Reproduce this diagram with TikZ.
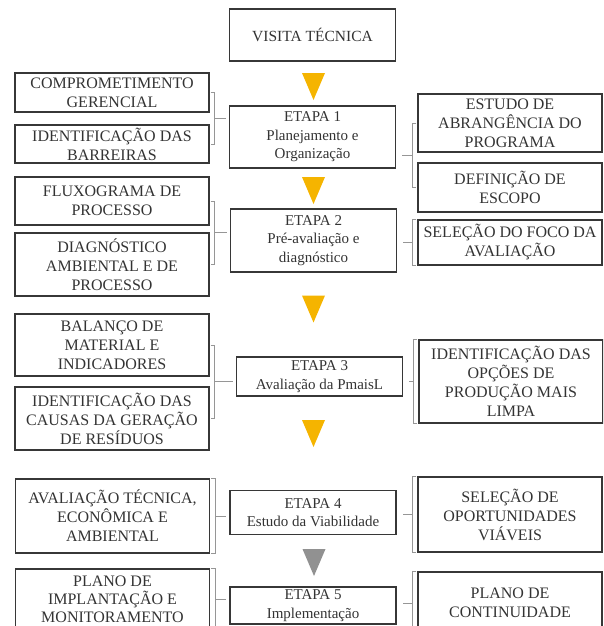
\documentclass[tikz,border=0pt]{standalone}
\usepackage{fontspec}
\setmainfont{Liberation Serif}
\usetikzlibrary{calc}

\definecolor{ouro}{RGB}{245,180,0}
\definecolor{cinza}{RGB}{145,145,145}
\definecolor{traco}{RGB}{55,55,55}
\definecolor{chave}{RGB}{150,150,150}

% bracket on the left side, stub towards the stage box
\newcommand{\bracketL}[3]{%
  \path ([xshift=5pt]#1) coordinate (bA) ([xshift=5pt]#2) coordinate (bB);
  \path ($(bA)!.5!(bB)$) coordinate (bM);
  \draw[brk] ([xshift=1pt]#1) -- (bA) -- (bB) -- ([xshift=1pt]#2);
  \draw[brk, shorten >=3pt] (bM) -- (bM -| #3.west);
}
% bracket on the right side
\newcommand{\bracketR}[3]{%
  \path ([xshift=-5pt]#1) coordinate (bA) ([xshift=-5pt]#2) coordinate (bB);
  \path ($(bA)!.5!(bB)$) coordinate (bM);
  \draw[brk] ([xshift=-1pt]#1) -- (bA) -- (bB) -- ([xshift=-1pt]#2);
  \draw[brk, shorten >=6pt] (bM) -- (bM -| #3.east);
}
% down triangle between stages
\newcommand{\downtri}[2]{\fill[#2] (#1) ++(-11.5,-13.5) -- ++(23,0) -- ++(-11.5,27) -- cycle;}

\begin{document}
\begin{tikzpicture}[
    x=1pt, y=-1pt,
    side/.style={rectangle, draw=traco, line width=1.1pt, minimum width=194pt, align=center, inner sep=0pt, text=black!80, font=\fontsize{16}{19}\selectfont},
    wide/.style={side, minimum width=184pt},
    stage/.style={rectangle, draw=traco, line width=1.1pt, minimum width=166pt, align=center, inner sep=0pt, text=black!80, font=\fontsize{15}{18.5}\selectfont},
    brk/.style={draw=chave, line width=0.8pt}
]
    \useasboundingbox (0,0) rectangle (603,626);
    \clip (0,0) rectangle (603,626);

    % Stages
    \node[stage, minimum height=52pt] (visita) at (312.5,35) {\fontsize{15.5}{18.5}\selectfont VISITA TÉCNICA};
    \node[stage, minimum height=62pt] (e1) at (312.5,137) {ETAPA 1\\Planejamento e\\Organização};
    \node[stage, minimum height=63pt] (e2) at (313.5,240.5) {ETAPA 2\\Pré-avaliação e\\diagnóstico};
    \node[stage, minimum height=39pt] (e3) at (319.5,376.5) {ETAPA 3\\Avaliação da PmaisL};
    \node[stage, minimum height=44pt] (e4) at (313,512.5) {ETAPA 4\\Estudo da Viabilidade};
    \node[stage, minimum height=37pt] (e5) at (313,605.5) {ETAPA 5\\Implementação};

    % Left side
    \node[side, minimum height=39pt] (l1a) at (112,92.5) {COMPROMETIMENTO\\GERENCIAL};
    \node[side, minimum height=38pt] (l1b) at (112,144) {IDENTIFICAÇÃO DAS\\BARREIRAS};
    \node[side, minimum height=48pt] (l2a) at (112,201) {FLUXOGRAMA DE\\PROCESSO};
    \node[side, minimum height=63pt] (l2b) at (112,264.5) {DIAGNÓSTICO\\AMBIENTAL E DE\\PROCESSO};
    \node[side, minimum height=62pt] (l3a) at (112,345) {BALANÇO DE\\MATERIAL E\\INDICADORES};
    \node[side, minimum height=63pt] (l3b) at (112,418.5) {IDENTIFICAÇÃO DAS\\CAUSAS DA GERAÇÃO\\DE RESÍDUOS};
    \node[side, minimum height=74pt] (l4) at (112.5,516) {AVALIAÇÃO TÉCNICA,\\ECONÔMICA E\\AMBIENTAL};
    \node[side, minimum height=60pt, font=\fontsize{16}{18}\selectfont] (l5) at (112.5,599) {PLANO DE\\IMPLANTAÇÃO E\\MONITORAMENTO};

    % Right side
    \node[wide, minimum height=58pt] (r1a) at (510,123) {ESTUDO DE\\ABRANGÊNCIA DO\\PROGRAMA};
    \node[wide, minimum height=49pt] (r1b) at (510,187.5) {DEFINIÇÃO DE\\ESCOPO};
    \node[wide, minimum height=45pt] (r2) at (510,242.5) {SELEÇÃO DO FOCO DA\\AVALIAÇÃO};
    \node[wide, minimum height=83pt] (r3) at (511,381.5) {IDENTIFICAÇÃO DAS\\OPÇÕES DE\\PRODUÇÃO MAIS\\LIMPA};
    \node[wide, minimum height=75pt] (r4) at (510,514.5) {SELEÇÃO DE\\OPORTUNIDADES\\VIÁVEIS};
    \node[wide, minimum height=62pt] (r5) at (510,603) {PLANO DE\\CONTINUIDADE};

    % Brackets
    \bracketL{l1a.east}{l1b.east}{e1}
    \bracketR{r1a.west}{r1b.west}{e1}
    \bracketL{l2a.east}{l2b.east}{e2}
    \bracketR{r2.north west}{r2.south west}{e2}
    \bracketL{l3a.east}{l3b.east}{e3}
    \bracketR{r3.north west}{r3.south west}{e3}
    \bracketL{l4.north east}{l4.south east}{e4}
    \bracketR{r4.north west}{r4.south west}{e4}
    \bracketL{l5.north east}{l5.south east}{e5}
    \bracketR{r5.north west}{r5.south west}{e5}

    % Arrows between stages
    \coordinate (t1) at (313.5,86.5);
    \coordinate (t2) at (313.5,190.5);
    \coordinate (t3) at (313.5,309);
    \coordinate (t4) at (313.5,433.5);
    \coordinate (t5) at (314,562.5);
    \downtri{t1}{ouro}
    \downtri{t2}{ouro}
    \downtri{t3}{ouro}
    \downtri{t4}{ouro}
    \downtri{t5}{cinza}

\end{tikzpicture}
\end{document}
